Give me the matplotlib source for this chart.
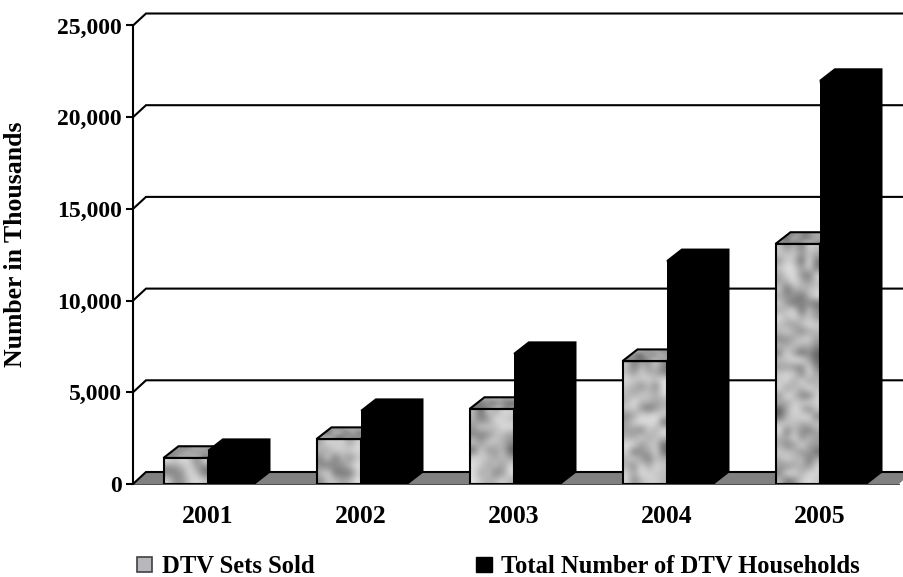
#!/usr/bin/env python3
"""
DTV sets sold and total DTV households, drawn as a pseudo 3D bar chart.
"""

import numpy as np
import matplotlib
matplotlib.use("Agg")
import matplotlib.pyplot as plt
from matplotlib.patches import Patch

years = ["2001", "2002", "2003", "2004", "2005"]
sets_sold = [1420, 2450, 4090, 6700, 13090]
households = [1850, 4030, 7140, 12200, 22030]
y_ticks = [0, 5000, 10000, 15000, 20000, 25000]

plt.rcParams["font.family"] = ["Liberation Serif", "DejaVu Serif"]
plt.rcParams["font.weight"] = "bold"

W, H = 904, 577
PX_X = 153.0  # pixels per category
PX_Y = 91.7 / 5000  # pixels per thousand
X0 = 207.5  # pixel position of the first category
BAR_A = 44 / PX_X
BAR_B = 48 / PX_X
DX = 15 / PX_X
DY = 11.7 / PX_Y
FLOOR_DX = 13 / PX_X
FLOOR_DY = 12 / PX_Y


def mottled(rows, cols, seed, low, high):
    """Blotchy grey texture, no random module needed."""
    yy, xx = np.mgrid[0:rows, 0:cols]
    v = np.sin((xx + seed) * 12.9898 + (yy + seed) * 78.233) * 43758.5453
    v = v - np.floor(v)
    return low + v ** 0.5 * (high - low)


fig = plt.figure(figsize=(W / 100, H / 100), dpi=100)
ax = fig.add_axes([133 / W, (H - 484) / H, (W - 133) / W, 484 / H])
x_left = (133 - X0) / PX_X
x_right = (W - X0) / PX_X
x_floor_end = (899 - X0) / PX_X
x_pos = np.arange(len(years))

# floor and back wall lines
ax.fill([x_left, x_left + FLOOR_DX, x_floor_end + FLOOR_DX, x_floor_end],
        [0, FLOOR_DY, FLOOR_DY, 0], facecolor="#808080", edgecolor="none", zorder=1, clip_on=True)
ax.plot([x_left, x_floor_end], [0, 0], color="#303030", lw=0.6, zorder=1.5, clip_on=False)
for v in y_ticks:
    ax.plot([x_left, x_left + FLOOR_DX, x_right], [v, v + FLOOR_DY, v + FLOOR_DY],
            color="black", lw=1.5, zorder=1.2, solid_joinstyle="miter")

# bars
for i, x in enumerate(x_pos):
    a = sets_sold[i]
    b = households[i]

    ax.bar(x - BAR_A, a, BAR_A, align="edge", facecolor="none",
           edgecolor="black", linewidth=1.5, zorder=3.5)
    rows = max(int(a * PX_Y / 7), 3)
    tex = mottled(rows, 6, i * 7 + 3, 0.3, 0.9)
    ax.imshow(tex, cmap="gray", vmin=0, vmax=1, aspect="auto", interpolation="bicubic",
              extent=[x - BAR_A, x, 0, a], zorder=3)

    top_x = [x - BAR_A, x - BAR_A + DX, x + DX, x]
    top_y = [a, a + DY, a + DY, a]
    top = ax.fill(top_x, top_y, facecolor="none", edgecolor="black", linewidth=1.5, zorder=3.5)[0]
    im2 = ax.imshow(mottled(3, 9, i * 5 + 1, 0.3, 0.72), cmap="gray", vmin=0, vmax=1,
                    aspect="auto", interpolation="bicubic",
                    extent=[x - BAR_A, x + DX, a, a + DY], zorder=3)
    im2.set_clip_path(top)

    # black bar: front face, then top and side as one shape
    ax.bar(x, b, BAR_B, align="edge", color="black", linewidth=0, zorder=4)
    ax.fill([x, x + DX, x + BAR_B + DX, x + BAR_B + DX, x + BAR_B],
            [b, b + DY, b + DY, DY, 0], facecolor="black", edgecolor="none", zorder=4)

ax.set_xlim(x_left, x_right)
ax.set_ylim(0, 484 / PX_Y)

ax.spines[["top", "right", "bottom"]].set_visible(False)
ax.spines["left"].set_bounds(0, 25000)
ax.spines["left"].set_linewidth(1.5)
ax.set_yticks(y_ticks)
ax.set_yticklabels([f"{v:,}" for v in y_ticks], fontsize=17)
ax.tick_params(axis="y", length=5, width=1.5, pad=3)
ax.set_xticks(x_pos)
ax.set_xticklabels(years, fontsize=18.5)
ax.tick_params(axis="x", length=0, pad=15)
ax.patch.set_alpha(0)

fig.text(16 / W, 1 - 244 / H, "Number in Thousands", rotation=90, va="center", ha="center",
         fontsize=18.5, fontweight="bold")

handles = [Patch(facecolor="#b8b8bc", edgecolor="#404040", linewidth=1.2),
           Patch(facecolor="black", edgecolor="black")]
fig.legend(handles, ["DTV Sets Sold", "Total Number of DTV Households"], ncol=2,
           loc="lower left", bbox_to_anchor=(137 / W, -0.002), frameon=False, fontsize=17.7,
           handlelength=0.62, handleheight=0.6, handletextpad=0.38, columnspacing=6.6,
           borderpad=0, borderaxespad=0)

fig.savefig("out.png", dpi=100)
